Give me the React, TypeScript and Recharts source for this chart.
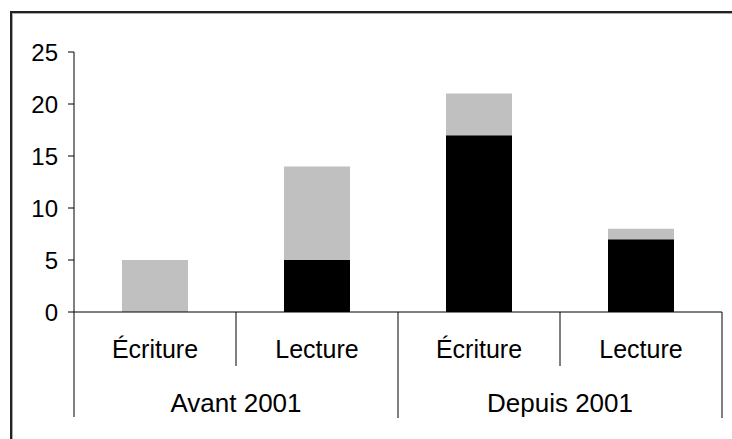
import { BarChart, Bar, XAxis, YAxis } from 'recharts';

const categories = ['Écriture', 'Lecture', 'Écriture', 'Lecture'];
const groups = ['Avant 2001', 'Avant 2001', 'Depuis 2001', 'Depuis 2001'];
const blackValues = [0, 5, 17, 7];
const grayValues = [5, 9, 4, 1];
const yTicks = [0, 5, 10, 15, 20, 25];

const data = categories.map((cat, i) => ({
  key: `c${i}`,
  cat,
  group: groups[i],
  black: blackValues[i],
  gray: grayValues[i],
}));

const FONT = '"Liberation Sans", Arial, sans-serif';
const LINE = '#000';

// first level: category name + divider on the right of each band
function CatTick(props: any) {
  const { x, y, payload, index } = props;
  const half = payload?.offset ?? 81;
  return (
    <g>
      <text x={x} y={y + 46} textAnchor="middle" fontSize={25} fontFamily={FONT} fill="#000">
        {categories[index]}
      </text>
      {index === 0 && <line x1={x - half} x2={x - half} y1={y} y2={y + 54} stroke={LINE} />}
      <line x1={x + half} x2={x + half} y1={y} y2={y + 54} stroke={LINE} />
    </g>
  );
}

// second level: group name + group dividers
function GroupTick(props: any) {
  const { x, y, payload, index } = props;
  const half = payload?.offset ?? 162;
  return (
    <g>
      <text x={x} y={y + 46} textAnchor="middle" fontSize={26} fontFamily={FONT} fill="#000">
        {payload.value}
      </text>
      {index === 0 && <line x1={x - half} x2={x - half} y1={y} y2={y + 51} stroke={LINE} />}
      <line x1={x + half} x2={x + half} y1={y} y2={y + 52} stroke={LINE} />
    </g>
  );
}

export default function App() {
  return (
    <div style={{ position: 'absolute', left: 0, top: 0, width: 732, height: 439, background: '#fff', overflow: 'hidden' }}>
      <div
        style={{
          position: 'absolute', left: 10, top: 11, width: 800, height: 500,
          borderLeft: '2px solid #222', borderTop: '2px solid #222',
          boxShadow: 'inset 1px 1px 0 #aaa',
        }}
      />
      <div style={{ position: 'absolute', left: 0, top: 0 }}>
        <BarChart width={732} height={439} data={data} margin={{ top: 52, right: 10, bottom: 21, left: 0 }}>
          <XAxis
            dataKey="key"
            xAxisId={0}
            height={54}
            axisLine={{ stroke: LINE }}
            tickLine={false}
            tickSize={0}
            tickMargin={0}
            interval={0}
            tick={<CatTick />}
          />
          <XAxis
            dataKey="group"
            xAxisId="group"
            allowDuplicatedCategory={false}
            height={52}
            axisLine={false}
            tickLine={false}
            tickSize={0}
            tickMargin={0}
            interval={0}
            tick={<GroupTick />}
          />
          <YAxis
            width={74}
            domain={[0, 25]}
            ticks={yTicks}
            interval={0}
            axisLine={{ stroke: LINE }}
            tickLine={{ stroke: LINE }}
            tickSize={6}
            tickMargin={10}
            tick={{ fontSize: 24, fontFamily: FONT, fill: '#000' }}
          />
          <Bar dataKey="black" stackId="s" fill="#000000" barSize={66} isAnimationActive={false} />
          <Bar dataKey="gray" stackId="s" fill="#c0c0c0" barSize={66} isAnimationActive={false} />
        </BarChart>
      </div>
    </div>
  );
}
